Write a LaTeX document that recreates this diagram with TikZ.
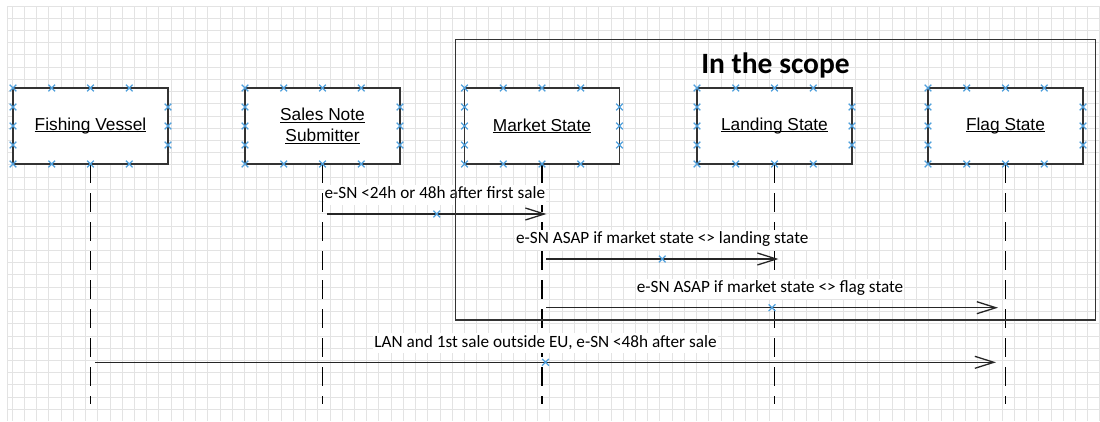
\documentclass[tikz,border=0pt]{standalone}
\usepackage{fontspec}
\setmainfont{Liberation Sans}
\newfontfamily\calibri{Carlito}
\usetikzlibrary{arrows.meta,positioning,shapes.misc,calc}
\definecolor{cpblue}{RGB}{80,160,220}
\newcommand{\uword}[1]{\setbox0\hbox{#1}\rlap{\rule[-2pt]{\wd0}{1pt}}\box0}

\begin{document}
\begin{tikzpicture}[x=1pt, y=-1pt]
	\tikzstyle{actor}=[draw=black!80, line width=1.3pt, fill=white, minimum width=155pt, minimum height=76pt, inner sep=0pt, outer sep=0pt, align=center, font=\fontsize{17.3}{21}\selectfont]
	\tikzstyle{lifeline}=[line width=1.5pt, dash pattern=on 19pt off 10pt]
	\tikzstyle{msg}=[draw=black!85, line width=1.3pt, -{Straight Barb[length=19pt, width=12pt, line width=1.3pt]}]
	\tikzstyle{lbl}=[fill=white, inner xsep=1pt, inner ysep=2pt, text height=12pt, text depth=4pt, font=\calibri\fontsize{17.2}{20}\selectfont]
	\tikzstyle{cp}=[cross out, draw=cpblue, line width=1.2pt, minimum size=5.5pt, inner sep=0pt]
	\tikzstyle{gridline}=[black!11, line width=1pt]

	\useasboundingbox (0,0) rectangle (1100,421);
	\foreach \i in {0,...,33}
		\draw[gridline] (7,6.1+12.22*\i) -- (1100,6.1+12.22*\i);
	\draw[gridline] (7,6.1) -- (7,421);
	\foreach \i in {0,...,89}
		\draw[gridline] (12.3+12.22*\i,6.1) -- (12.3+12.22*\i,421);

	\node[actor] (fv) at (90.5,126) {\uword{Fishing Vessel}};
	\node[actor, right=77pt of fv] (sns) {\uword{Sales Note}\\\uword{Submitter}};
	\node[actor, right=64.5pt of sns] (ms) {\uword{Market State}};
	\node[actor, right=77.5pt of ms] (ls) {\uword{Landing State}};
	\node[actor, right=76pt of ls] (fs) {\uword{Flag State}};

	\coordinate (bottom) at (0,404);
	\foreach \b in {fv,sns,ms,ls,fs}
		\draw[lifeline] (\b.south) -- (\b.south |- bottom);

	\coordinate (r1) at (0,214);
	\coordinate (r2) at (0,259);
	\coordinate (r3) at (0,307.7);
	\coordinate (r4) at (0,362.3);
	\draw[msg] ([xshift=4.5pt]sns |- r1) -- node[cp] (m1) {}
		node[lbl, pos=0, anchor=south west, xshift=-4pt, yshift=8.5pt] (l1) {e-SN <24h or 48h after first sale}
		([xshift=4.5pt]ms |- r1);
	\draw[msg] ([xshift=4pt]ms |- r2) -- node[cp] (m2) {}
		node[lbl, above=8.5pt] (l2) {e-SN ASAP if market state <> landing state}
		([xshift=4pt]ls |- r2);
	\draw[msg] ([xshift=4pt]ms |- r3) -- node[cp] (m3) {}
		node[lbl, above=8.5pt, xshift=-2pt] (l3) {e-SN ASAP if market state <> flag state}
		([xshift=-7.5pt]fs |- r3);
	\draw[msg] ([xshift=4.5pt]fv |- r4) -- node[cp] (m4) {}
		node[lbl, above=8.5pt] (l4) {LAN and 1st sale outside EU, e-SN <48h after sale}
		([xshift=-9.5pt]fs |- r4);

	\node[draw=black!80, line width=1.5pt, minimum width=640pt, minimum height=280.5pt, inner sep=0pt, outer sep=0pt] (scope) at (775.5,179.75) {};
	\node[font=\calibri\bfseries\fontsize{29.5}{32}\selectfont, anchor=base] (ttl) at ($(scope.north)+(0,33.8)$) {In the scope};

	\foreach \b in {fv,sns,ms,ls,fs} {
		\foreach \t [count=\i] in {0,0.25,0.5,0.75} {
			\node[cp] (\b-n\i) at ($(\b.north west)!\t!(\b.north east)$) {};
			\node[cp] (\b-s\i) at ($(\b.south west)!\t!(\b.south east)$) {};
		}
		\foreach \t [count=\i] in {0.25,0.5,0.75} {
			\node[cp] (\b-w\i) at ($(\b.north west)!\t!(\b.south west)$) {};
			\node[cp] (\b-e\i) at ($(\b.north east)!\t!(\b.south east)$) {};
		}
	}
\end{tikzpicture}
\end{document}
